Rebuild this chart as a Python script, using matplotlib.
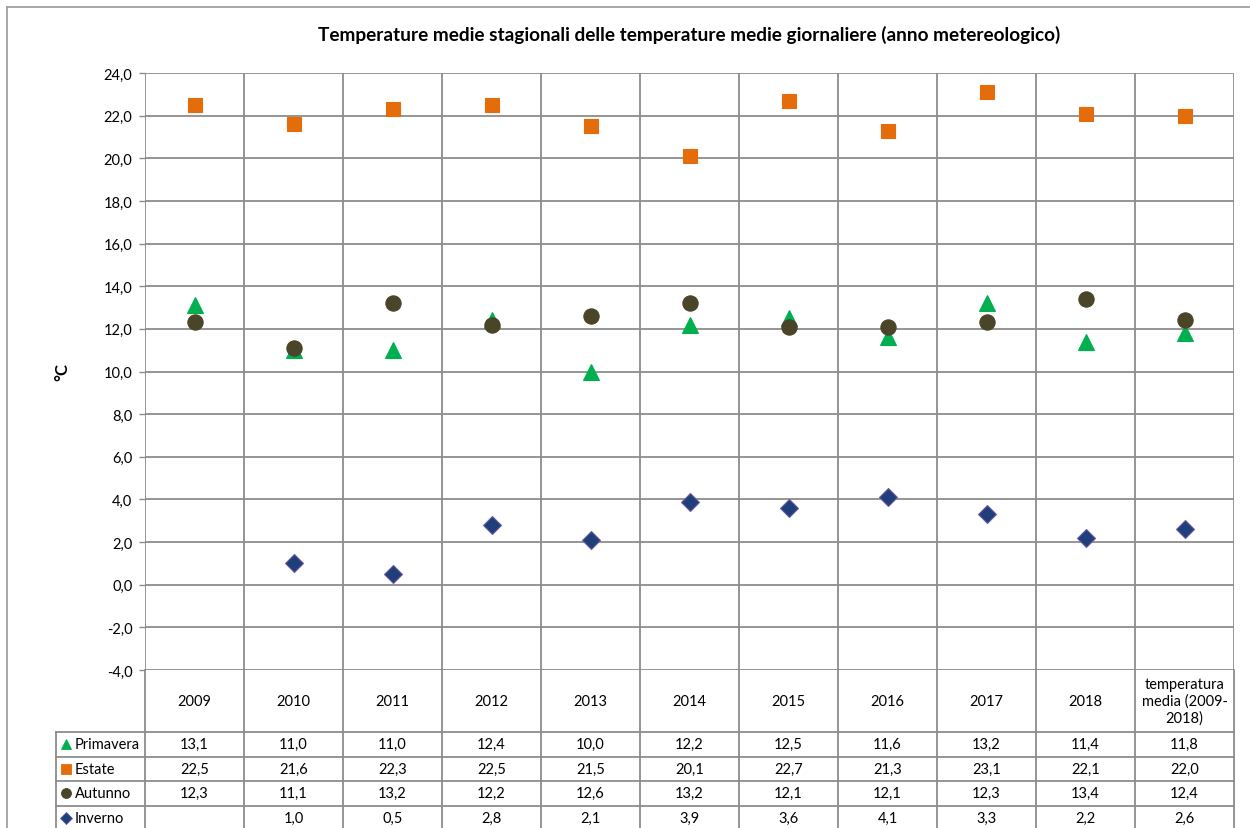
import numpy as np
import matplotlib.pyplot as plt
from matplotlib.lines import Line2D

plt.rcParams['font.family'] = ['Lato', 'DejaVu Sans']

# data
categories = ['2009', '2010', '2011', '2012', '2013', '2014', '2015', '2016',
              '2017', '2018', 'temperatura\nmedia (2009-\n2018)']
primavera = [13.1, 11.0, 11.0, 12.4, 10.0, 12.2, 12.5, 11.6, 13.2, 11.4, 11.8]
estate = [22.5, 21.6, 22.3, 22.5, 21.5, 20.1, 22.7, 21.3, 23.1, 22.1, 22.0]
autunno = [12.3, 11.1, 13.2, 12.2, 12.6, 13.2, 12.1, 12.1, 12.3, 13.4, 12.4]
inverno = [np.nan, 1.0, 0.5, 2.8, 2.1, 3.9, 3.6, 4.1, 3.3, 2.2, 2.6]
yticks = np.arange(-4, 24.1, 2)

series = [
    ('Primavera', primavera, '^', '#00B050', '#00B050', 12),
    ('Estate', estate, 's', '#E46C0A', '#E46C0A', 10),
    ('Autunno', autunno, 'o', '#4A4429', '#4A4429', 11),
    ('Inverno', inverno, 'D', '#1F3F7A', '#6A5AA0', 9.5),
]

grid_c = '#8C8C8C'
fs = 10.5
W, H = 1250, 829
fig = plt.figure(figsize=(W / 100, H / 100), dpi=100)

# main plot area
ax = fig.add_axes([145 / W, 1 - 671 / H, 1089 / W, 597 / H])
x = np.arange(len(categories)) + 0.5
for name, vals, mk, fc, ec, ms in series:
    ax.plot(x, vals, linestyle='none', marker=mk, markersize=ms,
            markerfacecolor=fc, markeredgecolor=ec, markeredgewidth=0.8,
            zorder=3, clip_on=False)
ax.set_xlim(0, len(categories))
ax.set_ylim(-4, 24)
ax.set_yticks(yticks)
ax.set_yticklabels([('%.1f' % v).replace('.', ',') for v in yticks], fontsize=fs)
ax.set_xticks([])
ax.tick_params(axis='y', length=4, width=1, color=grid_c, pad=5)
for v in yticks:
    ax.axhline(v, color=grid_c, lw=1.3, zorder=1)
for i in range(len(categories) + 1):
    ax.axvline(i, color=grid_c, lw=1.3, zorder=1)
for s in ax.spines.values():
    s.set_visible(False)
ax.set_ylabel('°C', fontsize=12, fontweight='bold', labelpad=24)
ax.set_title('Temperature medie stagionali delle temperature medie giornaliere (anno metereologico)',
             fontsize=13.7, fontweight='bold', pad=24)

# data table below the plot (row units of 24.5 px)
header_h = 62 / 24.5
lab_w = 89 / 99
tab = fig.add_axes([56 / W, 0, 1178 / W, 158 / H])
tab.set_xlim(-lab_w, len(categories))
tab.set_ylim(158 / 24.5, 0)
tab.axis('off')
nrow = len(series)
for i in range(len(categories) + 1):
    tab.plot([i, i], [0, header_h + nrow], color=grid_c, lw=1.3, clip_on=False)
tab.plot([-lab_w, -lab_w], [header_h, header_h + nrow], color=grid_c, lw=1.3,
         clip_on=False)
for r in range(nrow + 1):
    tab.plot([-lab_w, len(categories)], [header_h + r, header_h + r], color=grid_c,
             lw=1.3, clip_on=False)
for i, c in enumerate(categories):
    tab.text(i + 0.5, header_h / 2, c, ha='center', va='center', fontsize=fs,
             linespacing=1.2)
for r, (name, vals, mk, fc, ec, ms) in enumerate(series):
    yc = header_h + r + 0.5
    tab.plot([-lab_w + 0.1], [yc], linestyle='none', marker=mk, markersize=ms * 0.65,
             markerfacecolor=fc, markeredgecolor=ec, markeredgewidth=0.6)
    tab.text(-lab_w + 0.19, yc, name, ha='left', va='center', fontsize=fs)
    for i, v in enumerate(vals):
        if not np.isnan(v):
            tab.text(i + 0.5, yc, ('%.1f' % v).replace('.', ','), ha='center',
                     va='center', fontsize=fs)

# outer frame
fig.add_artist(Line2D([7 / W, 7 / W], [0, 1 - 8 / H], color='#A0A0A0', lw=1.3))
fig.add_artist(Line2D([7 / W, 1], [1 - 8 / H, 1 - 8 / H], color='#A0A0A0', lw=1.3))

fig.savefig('out.png', dpi=100)
